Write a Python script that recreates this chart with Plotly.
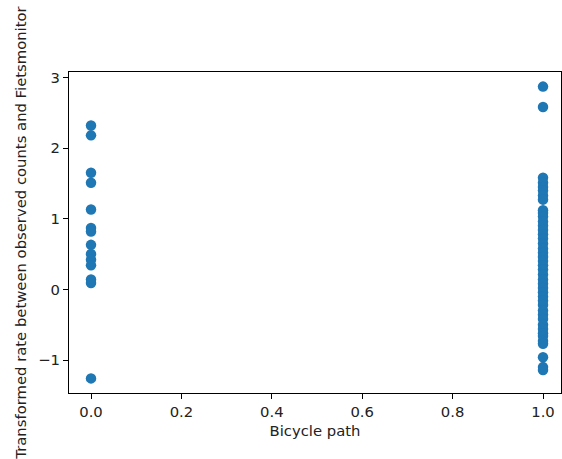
import plotly.graph_objects as go

# Transformed rate per counting location, split by presence of a bicycle path
no_path_rate = [2.32, 2.18, 1.65, 1.51, 1.13, 0.87, 0.82, 0.63, 0.50, 0.42, 0.34, 0.14, 0.09, -1.26]
with_path_rate = [2.87, 2.58, 1.58, 1.51, 1.45, 1.40, 1.33, 1.27, 1.12, 1.08, 1.03, 0.96,
                  0.90, 0.84, 0.78, 0.72, 0.65, 0.58, 0.52, 0.46, 0.40, 0.34, 0.28, 0.21,
                  0.14, 0.08, 0.02, -0.04, -0.10, -0.16, -0.22, -0.30, -0.36, -0.42, -0.50,
                  -0.56, -0.62, -0.66, -0.73, -0.77, -0.96, -1.10, -1.14]

x_vals = [0.0] * len(no_path_rate) + [1.0] * len(with_path_rate)
y_vals = no_path_rate + with_path_rate

x_ticks = [0.0, 0.2, 0.4, 0.6, 0.8, 1.0]
x_tick_text = ["0.0", "0.2", "0.4", "0.6", "0.8", "1.0"]
y_ticks = [-1, 0, 1, 2, 3]

FONT = dict(family="DejaVu Sans", size=14.8, color="#222")

fig = go.Figure(go.Scatter(
    x=x_vals, y=y_vals, mode="markers",
    marker=dict(color="#1f77b4", size=10.5, line=dict(width=0)),
    showlegend=False,
))

axis_common = dict(
    showgrid=False, zeroline=False, showline=True, linecolor="black", linewidth=1,
    mirror=True, ticks="outside", ticklen=5, tickcolor="black", tickwidth=1,
    tickfont=FONT, automargin=False,
)

span = max(y_vals) - min(y_vals)
fig.update_layout(
    width=562, height=459,
    margin=dict(l=69, r=1, t=72, b=66),
    paper_bgcolor="white", plot_bgcolor="white",
    font=FONT,
    xaxis=dict(axis_common, range=[-0.0487, 1.0398], tickvals=x_ticks, ticktext=x_tick_text,
               title=dict(text="Bicycle path", standoff=6, font=FONT)),
    yaxis=dict(axis_common, range=[min(y_vals) - 0.05 * span, max(y_vals) + 0.05 * span],
               tickvals=y_ticks,
               title=dict(text="Transformed rate between observed counts and Fietsmonitor",
                          standoff=8, font=FONT)),
)

fig.write_html("out.html")
